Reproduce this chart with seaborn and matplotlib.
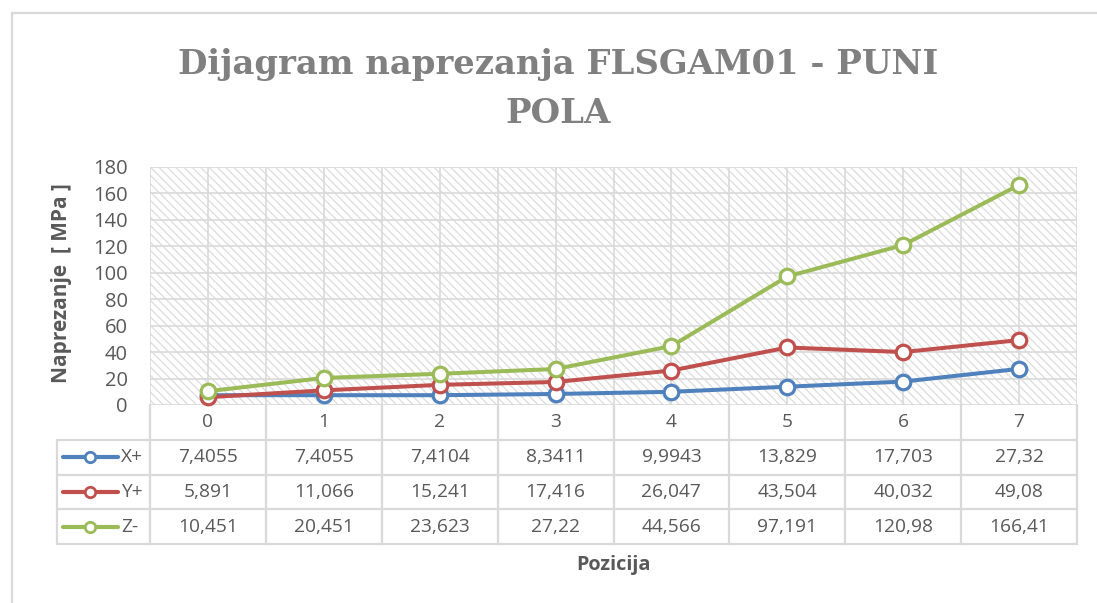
import matplotlib
matplotlib.use("Agg")
import matplotlib.pyplot as plt
from matplotlib.patches import Rectangle
from matplotlib.lines import Line2D
import seaborn as sns
import pandas as pd

# Stress values per position for each direction
pozicije = [0, 1, 2, 3, 4, 5, 6, 7]
x_plus = [7.4055, 7.4055, 7.4104, 8.3411, 9.9943, 13.829, 17.703, 27.32]
y_plus = [5.891, 11.066, 15.241, 17.416, 26.047, 43.504, 40.032, 49.08]
z_minus = [10.451, 20.451, 23.623, 27.22, 44.566, 97.191, 120.98, 166.41]
serije = ["X+", "Y+", "Z-"]
boje = ["#4F81BD", "#C0504D", "#9BBB59"]
y_ticks = list(range(0, 181, 20))

naslov_1 = "Dijagram naprezanja FLSGAM01 - PUNI"
naslov_2 = "POLA"

df = pd.DataFrame({
    "pozicija": pozicije * 3,
    "vrijednost": x_plus + y_plus + z_minus,
    "serija": [s for s in serije for _ in pozicije],
})

sns.set_theme(style="white")
plt.rcParams["font.family"] = ["Open Sans", "DejaVu Sans"]
plt.rcParams["hatch.linewidth"] = 0.9

W, H = 1097, 603
fig = plt.figure(figsize=(W / 100, H / 100), dpi=100)
fig.patch.set_facecolor("white")

GRID = "#d9d9d9"
TXT = "#595959"

# Outer chart frame
fig.add_artist(Line2D([12 / W, 1.0], [1 - 13 / H, 1 - 13 / H], color=GRID, lw=1.6,
                      transform=fig.transFigure))
fig.add_artist(Line2D([12 / W, 12 / W], [1 - 13 / H, 0.0], color=GRID, lw=1.6,
                      transform=fig.transFigure))

# Plot area
left, right, top, bottom = 150, 1077, 167, 405
ax = fig.add_axes([left / W, 1 - bottom / H, (right - left) / W, (bottom - top) / H])
ax.set_xlim(-0.5, 7.5)
ax.set_ylim(0, 180)
for s in ax.spines.values():
    s.set_visible(False)

ax.add_patch(Rectangle((-0.5, 0), 8, 180, fill=False, hatch="\\\\\\\\", edgecolor="#dcdcdc",
                       lw=0, zorder=0))
for yv in y_ticks:
    ax.axhline(yv, color=GRID, lw=1.2, zorder=0.5)
for i in range(17):
    ax.axvline(-0.5 + i * 0.5, color=GRID, lw=1.2, zorder=0.5)

for s, c in zip(serije, boje):
    sns.lineplot(data=df[df["serija"] == s], x="pozicija", y="vrijednost", ax=ax,
                 color=c, lw=2.9, marker="o", markersize=10.5, markerfacecolor="white",
                 markeredgecolor=c, markeredgewidth=2.3, zorder=3, clip_on=False)

ax.set_xticks([])
ax.set_yticks(y_ticks)
ax.set_yticklabels([str(v) for v in y_ticks], fontsize=14.5, color=TXT)
ax.tick_params(axis="y", length=0, pad=16)
ax.set_xlabel("")
ax.set_ylabel("")

# Data table beneath the plot
tx0 = 57
tax = fig.add_axes([tx0 / W, 1 - 544 / H, (right - tx0) / W, (544 - bottom) / H])
cat_w = (right - left) / 8
x_min = -0.5 - (left - tx0) / cat_w
tax.set_xlim(x_min, 7.5)
tax.set_ylim(4, 0)
tax.axis("off")

for r in range(1, 5):
    tax.plot([x_min, 7.5], [r, r], color=GRID, lw=1.6, clip_on=False)
tax.plot([x_min, x_min], [1, 4], color=GRID, lw=1.6, clip_on=False)
for i in range(9):
    tax.plot([-0.5 + i, -0.5 + i], [0, 4], color=GRID, lw=1.6, clip_on=False)

for i, p in enumerate(pozicije):
    tax.text(i, 0.5, str(p), ha="center", va="center", fontsize=13.8, color=TXT)

def px_to_x(px):
    return (px - left) / cat_w - 0.5

for r, (s, c, vals) in enumerate(zip(serije, boje, [x_plus, y_plus, z_minus]), start=1):
    yc = r + 0.5
    tax.plot([px_to_x(63), px_to_x(118)], [yc, yc], color=c, lw=3.0,
             solid_capstyle="round", clip_on=False)
    tax.plot([px_to_x(90)], [yc], marker="o", markersize=7.5, markerfacecolor="white",
             markeredgecolor=c, markeredgewidth=2.0, clip_on=False)
    tax.text(px_to_x(121), yc, s, ha="left", va="center", fontsize=13.8, color=TXT)
    for i, v in enumerate(vals):
        tax.text(i, yc, repr(v).replace(".", ","), ha="center", va="center",
                 fontsize=13.8, color=TXT)

# Axis titles
fig.text(613 / W, 1 - 565 / H, "Pozicija", ha="center", va="center", fontsize=14.3,
         fontweight="bold", color=TXT)
fig.text(62 / W, 1 - 283 / H, "Naprezanje  [ MPa ]", ha="center", va="center",
         rotation=90, fontsize=15, fontweight="bold", color=TXT)

# Chart title
title_kw = dict(ha="center", va="baseline", fontsize=24.4, fontweight="bold",
                color="#808080", family=["DejaVu Serif"])
fig.text(558 / W, 1 - 74 / H, naslov_1, **title_kw)
fig.text(558 / W, 1 - 123 / H, naslov_2, **title_kw)

fig.savefig("out.png", dpi=100, facecolor="white")
